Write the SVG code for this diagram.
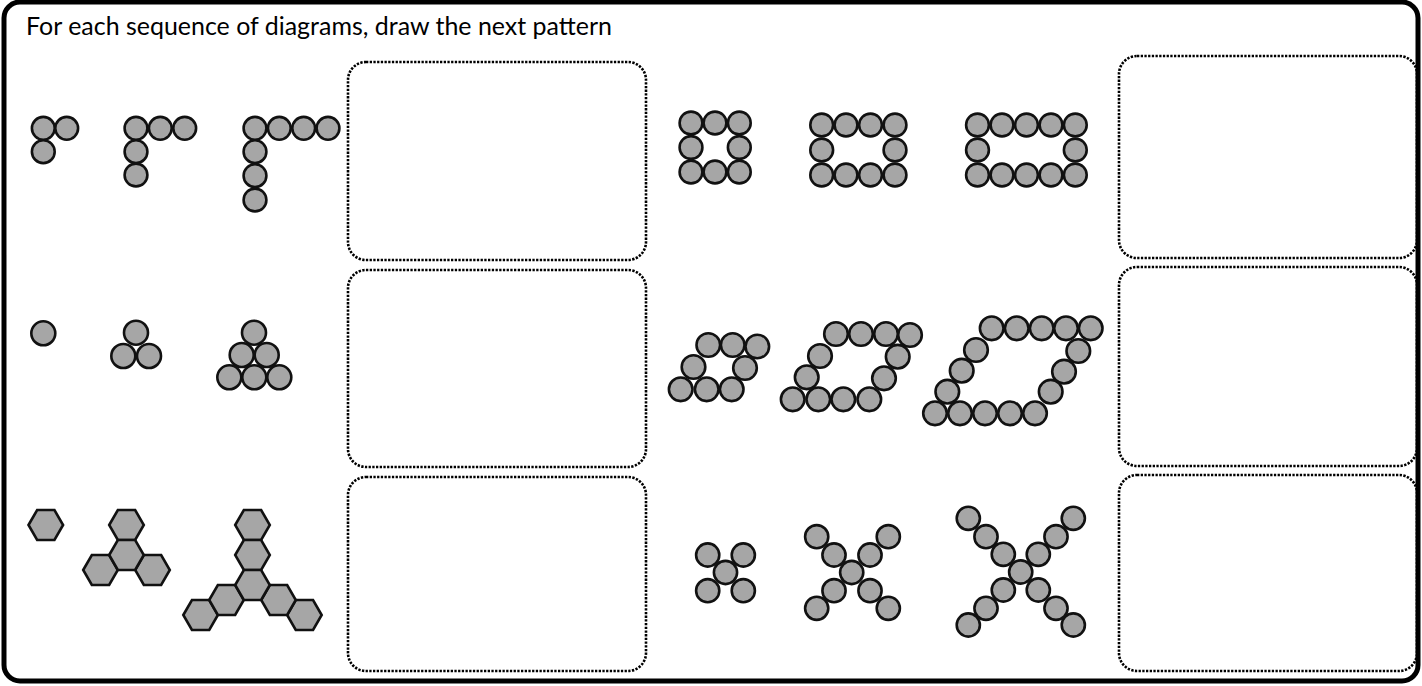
<svg xmlns="http://www.w3.org/2000/svg" xmlns:xlink="http://www.w3.org/1999/xlink" width="1422" height="686" viewBox="0 0 1422 686">
<style>
.frame{fill:#fff;stroke:#000;stroke-width:5}
.box{fill:none;stroke:#000;stroke-width:2.6;stroke-dasharray:2.3 1.4}
.c{fill:#a6a6a6;stroke:#111;stroke-width:2.6}
.h{fill:#a6a6a6;stroke:#111;stroke-width:2.6;stroke-linejoin:miter}
.title{font-family:Lato,"Open Sans","Liberation Sans",sans-serif;font-size:25px;fill:#000}
</style>
<defs>
<polygon id="hex" class="h" points="-17.3,0 -8.65,-14.98 8.65,-14.98 17.3,0 8.65,14.98 -8.65,14.98"/>
</defs>
<rect class="frame" x="4" y="2" width="1414" height="679" rx="16"/>
<text class="title" x="26" y="35" textLength="586" lengthAdjust="spacingAndGlyphs">For each sequence of diagrams, draw the next pattern</text>

<g id="answer-boxes">
<rect id="box-r1-left" class="box" x="348" y="62" width="298" height="198" rx="18"/>
<rect id="box-r2-left" class="box" x="348" y="270" width="298" height="197" rx="18"/>
<rect id="box-r3-left" class="box" x="348" y="477" width="298" height="194" rx="18"/>
<rect id="box-r1-right" class="box" x="1119" y="56" width="298" height="202" rx="18"/>
<rect id="box-r2-right" class="box" x="1119" y="267" width="298" height="199" rx="18"/>
<rect id="box-r3-right" class="box" x="1119" y="475" width="298" height="196" rx="18"/>
</g>

<g id="connectors"/>

<!-- Row 1 left: L shapes -->
<g id="l-shape-1">
<circle class="c" cx="43.3" cy="128.3" r="11.4"/>
<circle class="c" cx="66.7" cy="128.3" r="11.4"/>
<circle class="c" cx="43.3" cy="151.7" r="11.4"/>
</g>
<g id="l-shape-2">
<circle class="c" cx="136" cy="128.3" r="11.4"/>
<circle class="c" cx="160.3" cy="128.3" r="11.4"/>
<circle class="c" cx="184.7" cy="128.3" r="11.4"/>
<circle class="c" cx="136" cy="151.7" r="11.4"/>
<circle class="c" cx="136" cy="175" r="11.4"/>
</g>
<g id="l-shape-3">
<circle class="c" cx="255" cy="128.3" r="11.4"/>
<circle class="c" cx="279.3" cy="128.3" r="11.4"/>
<circle class="c" cx="303.7" cy="128.3" r="11.4"/>
<circle class="c" cx="328" cy="128.3" r="11.4"/>
<circle class="c" cx="255" cy="151.7" r="11.4"/>
<circle class="c" cx="255" cy="175.7" r="11.4"/>
<circle class="c" cx="255" cy="200" r="11.4"/>
</g>

<!-- Row 1 right: rectangles -->
<g id="rect-ring-1">
<circle class="c" cx="691" cy="123" r="11.4"/>
<circle class="c" cx="715" cy="123" r="11.4"/>
<circle class="c" cx="739.3" cy="123" r="11.4"/>
<circle class="c" cx="691" cy="147.5" r="11.4"/>
<circle class="c" cx="739.3" cy="147.5" r="11.4"/>
<circle class="c" cx="691" cy="172" r="11.4"/>
<circle class="c" cx="715" cy="172" r="11.4"/>
<circle class="c" cx="739.3" cy="172" r="11.4"/>
</g>
<g id="rect-ring-2">
<circle class="c" cx="821.7" cy="125" r="11.4"/>
<circle class="c" cx="846" cy="125" r="11.4"/>
<circle class="c" cx="870.5" cy="125" r="11.4"/>
<circle class="c" cx="895" cy="125" r="11.4"/>
<circle class="c" cx="821.7" cy="150" r="11.4"/>
<circle class="c" cx="895" cy="150" r="11.4"/>
<circle class="c" cx="821.7" cy="175" r="11.4"/>
<circle class="c" cx="846" cy="175" r="11.4"/>
<circle class="c" cx="870.5" cy="175" r="11.4"/>
<circle class="c" cx="895" cy="175" r="11.4"/>
</g>
<g id="rect-ring-3">
<circle class="c" cx="977.5" cy="125" r="11.4"/>
<circle class="c" cx="1002" cy="125" r="11.4"/>
<circle class="c" cx="1026.5" cy="125" r="11.4"/>
<circle class="c" cx="1051" cy="125" r="11.4"/>
<circle class="c" cx="1075.3" cy="125" r="11.4"/>
<circle class="c" cx="977.5" cy="150" r="11.4"/>
<circle class="c" cx="1075.3" cy="150" r="11.4"/>
<circle class="c" cx="977.5" cy="175" r="11.4"/>
<circle class="c" cx="1002" cy="175" r="11.4"/>
<circle class="c" cx="1026.5" cy="175" r="11.4"/>
<circle class="c" cx="1051" cy="175" r="11.4"/>
<circle class="c" cx="1075.3" cy="175" r="11.4"/>
</g>

<!-- Row 2 left: triangles -->
<g id="triangle-1">
<circle class="c" cx="43.3" cy="333.3" r="12"/>
</g>
<g id="triangle-2">
<circle class="c" cx="136" cy="332.7" r="12"/>
<circle class="c" cx="123.3" cy="356" r="12"/>
<circle class="c" cx="149" cy="356" r="12"/>
</g>
<g id="triangle-3">
<circle class="c" cx="254" cy="332.7" r="12"/>
<circle class="c" cx="241.7" cy="355" r="12"/>
<circle class="c" cx="266.7" cy="355" r="12"/>
<circle class="c" cx="229.3" cy="377.3" r="12"/>
<circle class="c" cx="254.3" cy="377.3" r="12"/>
<circle class="c" cx="279.3" cy="377.3" r="12"/>
</g>

<!-- Row 2 right: parallelograms -->
<g id="parallelogram-1">
<circle class="c" cx="708.3" cy="345" r="11.8"/>
<circle class="c" cx="732.7" cy="345" r="11.8"/>
<circle class="c" cx="757.3" cy="346.5" r="11.8"/>
<circle class="c" cx="693.5" cy="367" r="11.8"/>
<circle class="c" cx="745" cy="368" r="11.8"/>
<circle class="c" cx="680.7" cy="389.3" r="11.8"/>
<circle class="c" cx="706.7" cy="389.3" r="11.8"/>
<circle class="c" cx="731.7" cy="389.3" r="11.8"/>
</g>
<g id="parallelogram-2">
<circle class="c" cx="836" cy="334" r="11.8"/>
<circle class="c" cx="861" cy="334" r="11.8"/>
<circle class="c" cx="886" cy="334" r="11.8"/>
<circle class="c" cx="910" cy="335" r="11.8"/>
<circle class="c" cx="820" cy="356" r="11.8"/>
<circle class="c" cx="897.7" cy="356.7" r="11.8"/>
<circle class="c" cx="806.7" cy="377.3" r="11.8"/>
<circle class="c" cx="884" cy="378.3" r="11.8"/>
<circle class="c" cx="792.7" cy="399.3" r="11.8"/>
<circle class="c" cx="818.3" cy="399.3" r="11.8"/>
<circle class="c" cx="843.3" cy="399.3" r="11.8"/>
<circle class="c" cx="869.3" cy="399.3" r="11.8"/>
</g>
<g id="parallelogram-3">
<circle class="c" cx="991.7" cy="328.3" r="11.8"/>
<circle class="c" cx="1016.7" cy="328.3" r="11.8"/>
<circle class="c" cx="1041.7" cy="328.3" r="11.8"/>
<circle class="c" cx="1066" cy="328.3" r="11.8"/>
<circle class="c" cx="1090.7" cy="328.3" r="11.8"/>
<circle class="c" cx="976" cy="350" r="11.8"/>
<circle class="c" cx="1078.3" cy="351" r="11.8"/>
<circle class="c" cx="961.7" cy="370.7" r="11.8"/>
<circle class="c" cx="1064" cy="371.7" r="11.8"/>
<circle class="c" cx="947.3" cy="391.7" r="11.8"/>
<circle class="c" cx="1050.7" cy="391.7" r="11.8"/>
<circle class="c" cx="935" cy="413.3" r="11.8"/>
<circle class="c" cx="960" cy="413.3" r="11.8"/>
<circle class="c" cx="985" cy="413.3" r="11.8"/>
<circle class="c" cx="1010" cy="413.3" r="11.8"/>
<circle class="c" cx="1035" cy="413.3" r="11.8"/>
</g>

<!-- Row 3 left: hexagon tripods -->
<g id="hex-tripod-1">
<use xlink:href="#hex" href="#hex" x="45.8" y="525"/>
</g>
<g id="hex-tripod-2">
<use xlink:href="#hex" href="#hex" x="126.5" y="525"/>
<use xlink:href="#hex" href="#hex" x="100.5" y="570"/>
<use xlink:href="#hex" href="#hex" x="152.5" y="570"/>
<use xlink:href="#hex" href="#hex" x="126.5" y="555"/>
</g>
<g id="hex-tripod-3">
<use xlink:href="#hex" href="#hex" x="252.5" y="525"/>
<use xlink:href="#hex" href="#hex" x="252.5" y="555"/>
<use xlink:href="#hex" href="#hex" x="200.6" y="615"/>
<use xlink:href="#hex" href="#hex" x="226.5" y="600"/>
<use xlink:href="#hex" href="#hex" x="304.4" y="615"/>
<use xlink:href="#hex" href="#hex" x="278.5" y="600"/>
<use xlink:href="#hex" href="#hex" x="252.5" y="585"/>
</g>

<!-- Row 3 right: crosses -->
<g id="cross-1">
<circle class="c" cx="707.7" cy="555" r="11.6"/>
<circle class="c" cx="743.3" cy="555" r="11.6"/>
<circle class="c" cx="707.7" cy="590.7" r="11.6"/>
<circle class="c" cx="743.3" cy="590.7" r="11.6"/>
<circle class="c" cx="725.5" cy="572.5" r="11.6"/>
</g>
<g id="cross-2">
<circle class="c" cx="816.7" cy="536.7" r="11.6"/>
<circle class="c" cx="888.3" cy="536.7" r="11.6"/>
<circle class="c" cx="816.7" cy="608.3" r="11.6"/>
<circle class="c" cx="888.3" cy="608.3" r="11.6"/>
<circle class="c" cx="834" cy="555" r="11.6"/>
<circle class="c" cx="870" cy="555" r="11.6"/>
<circle class="c" cx="834" cy="590.7" r="11.6"/>
<circle class="c" cx="870" cy="590.7" r="11.6"/>
<circle class="c" cx="851.7" cy="572.5" r="11.6"/>
</g>
<g id="cross-3">
<circle class="c" cx="968.3" cy="518.3" r="11.6"/>
<circle class="c" cx="1073.3" cy="518.3" r="11.6"/>
<circle class="c" cx="968.3" cy="625" r="11.6"/>
<circle class="c" cx="1073.3" cy="625" r="11.6"/>
<circle class="c" cx="986" cy="536.7" r="11.6"/>
<circle class="c" cx="1056" cy="536.7" r="11.6"/>
<circle class="c" cx="986" cy="608.3" r="11.6"/>
<circle class="c" cx="1056" cy="608.3" r="11.6"/>
<circle class="c" cx="1003.3" cy="554.3" r="11.6"/>
<circle class="c" cx="1038.3" cy="554.3" r="11.6"/>
<circle class="c" cx="1003.3" cy="590" r="11.6"/>
<circle class="c" cx="1038.3" cy="590" r="11.6"/>
<circle class="c" cx="1020.7" cy="572" r="11.6"/>
</g>
</svg>
